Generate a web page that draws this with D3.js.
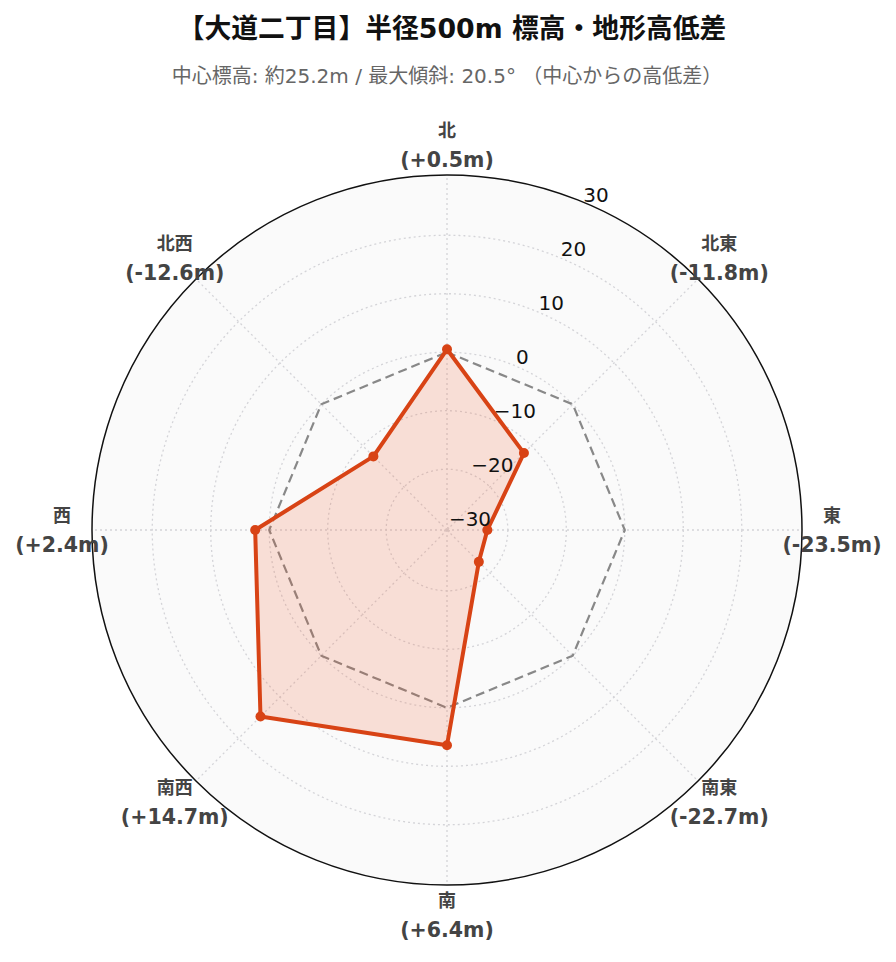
<!DOCTYPE html>
<html><head><meta charset="utf-8">
<script src="https://cdn.jsdelivr.net/npm/d3@7"></script>
<style>body{margin:0;background:#fff}svg{display:block}</style>
</head><body>
<svg id="c" width="896" height="962"></svg>
<script>
const directions = ["北","北東","東","南東","南","南西","西","北西"];
const elevDiff = [0.5, -11.8, -23.5, -22.7, 6.4, 14.7, 2.4, -12.6];
const reference = [0, 0, 0, 0, 0, 0, 0, 0];
const radialTicks = [-30, -20, -10, 0, 10, 20, 30];
const radialRange = [-30.4, 30.3];
const titleText = "【大道二丁目】半径500m 標高・地形高低差";
const subtitleText = "中心標高: 約25.2m / 最大傾斜: 20.5° （中心からの高低差）";

const FONT = "'DejaVu Sans','Noto Sans CJK JP',sans-serif";
const svg = d3.select("#c");
const cx = 447, cy = 530, R = 355;
const r = d3.scaleLinear().domain(radialRange).range([0, R]);
const ang = d3.scalePoint().domain(directions).range([0, 2*Math.PI*(directions.length-1)/directions.length]);
const g = svg.append("g").attr("transform", `translate(${cx},${cy})`);
const pt = (a, rr) => [rr*Math.sin(a), -rr*Math.cos(a)];

svg.append("text").attr("x", 452).attr("y", 38).attr("text-anchor","middle")
  .attr("font-family", FONT).attr("font-weight","bold").attr("font-size", 26.8).attr("fill","#111").text(titleText);
svg.append("text").attr("x", 447).attr("y", 83).attr("text-anchor","middle")
  .attr("font-family", FONT).attr("font-size", 20).attr("fill","#666").text(subtitleText);

g.append("circle").attr("r", R).attr("fill", "#fafafa");
g.selectAll(".gc").data(radialTicks.filter(t => r(t) > 2 && r(t) < R-2)).join("circle")
  .attr("r", d => r(d)).attr("fill","none").attr("stroke","#d4d4d8").attr("stroke-width",1.3).attr("stroke-dasharray","2,3");
g.selectAll(".ag").data(directions).join("line")
  .attr("x1",0).attr("y1",0)
  .attr("x2", d => pt(ang(d), R)[0]).attr("y2", d => pt(ang(d), R)[1])
  .attr("stroke","#d4d4d8").attr("stroke-width",1.3).attr("stroke-dasharray","2,3");
g.append("circle").attr("r", R).attr("fill","none").attr("stroke","#111").attr("stroke-width",1.5);

const radial = d3.lineRadial().angle((d,i) => ang(directions[i])).radius(d => r(d)).curve(d3.curveLinearClosed);
g.append("path").attr("d", radial(reference)).attr("fill","none").attr("stroke","#888").attr("stroke-width",2.2).attr("stroke-dasharray","9,5");
g.append("path").attr("d", radial(elevDiff)).attr("fill","rgba(244,81,30,0.16)").attr("stroke","#d84315").attr("stroke-width",4).attr("stroke-linejoin","round");
g.selectAll(".pt").data(elevDiff).join("circle")
  .attr("cx",(d,i) => pt(ang(directions[i]), r(d))[0])
  .attr("cy",(d,i) => pt(ang(directions[i]), r(d))[1])
  .attr("r",5).attr("fill","#d84315");

const tickAng = Math.PI/8;
const fmt = d3.format("d");
g.selectAll(".tl").data(radialTicks).join("text")
  .attr("x", d => pt(tickAng, r(d))[0] + 1)
  .attr("y", d => pt(tickAng, r(d))[1] - 2)
  .attr("font-family", FONT).attr("font-size", 20).attr("fill","#111")
  .text(d => fmt(d));

const sgn = v => (v >= 0 ? "+" : "-") + Math.abs(v).toFixed(1) + "m";
const lbl = g.selectAll(".al").data(directions).join("text")
  .attr("text-anchor","middle").attr("font-family", FONT).attr("font-weight","bold")
  .attr("font-size", 20.5).attr("fill","#444");
lbl.each(function(d, i) {
  const [x, y] = pt(ang(d), 385);
  const t = d3.select(this);
  t.append("tspan").attr("x", x).attr("y", y - 15 + 7).attr("font-size", 18).text(d);
  t.append("tspan").attr("x", x).attr("y", y + 15 + 7).text("(" + sgn(elevDiff[i]) + ")");
});
</script>
</body></html>
